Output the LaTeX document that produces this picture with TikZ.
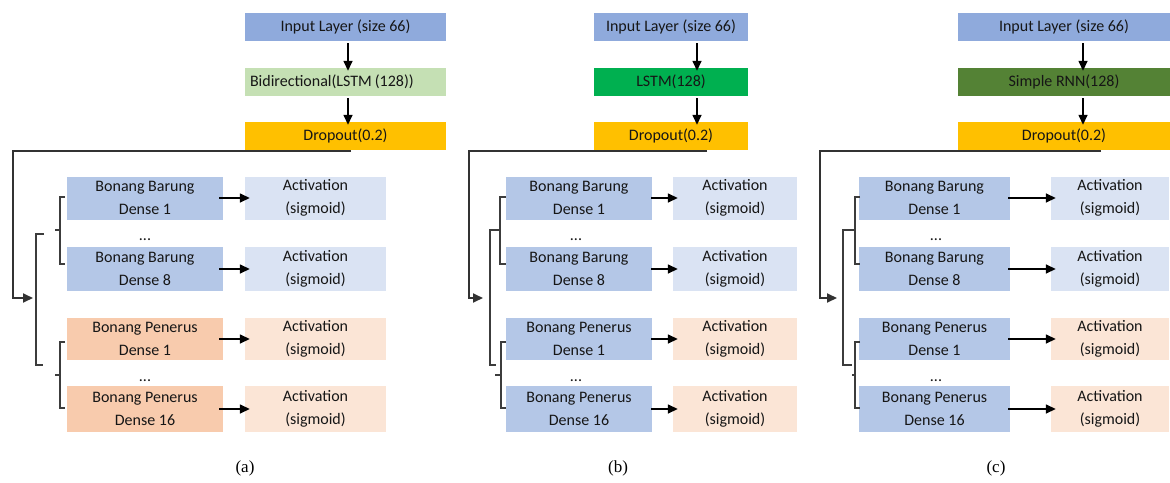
\documentclass[tikz,border=0pt]{standalone}
\usepackage{fontspec}
\setmainfont{Carlito}
\newfontfamily\capfont{Liberation Serif}
\usetikzlibrary{arrows.meta}

\definecolor{txt}{RGB}{22,22,22}
\definecolor{inputc}{HTML}{8FAADC}
\definecolor{bidirc}{HTML}{C5E0B4}
\definecolor{lstmc}{HTML}{00B050}
\definecolor{rnnc}{HTML}{548235}
\definecolor{dropc}{HTML}{FFC000}
\definecolor{densec}{HTML}{B4C7E7}
\definecolor{actbc}{HTML}{DAE3F3}
\definecolor{penc}{HTML}{F8CBAD}
\definecolor{actpc}{HTML}{FBE5D6}
\definecolor{flowc}{RGB}{50,50,50}
\definecolor{brkc}{RGB}{60,60,60}

\tikzset{
  box/.style={draw=none, inner sep=0pt, align=center, text=txt,
              font=\fontsize{16}{23}\selectfont},
  topbox/.style={box, minimum height=28pt},
  arr/.style={-{Triangle[length=10pt,width=9pt]}, line width=1.5pt, draw=black},
  harr/.style={arr, shorten >=-5pt},
  flow/.style={line width=1.8pt, draw=flowc, -{Triangle[length=10pt,width=9pt]}},
  brk/.style={line width=1.2pt, draw=brkc},
  captxt/.style={inner sep=0pt, font=\capfont\fontsize{17}{20}\selectfont}
}

\begin{document}
\begin{tikzpicture}[x=1pt, y=-1pt]
\useasboundingbox (0,0) rectangle (1170,482);

% ---------------- (a) Bidirectional LSTM ----------------
\node[topbox, fill=inputc, minimum width=201pt] (inA) at (345.5,27) {Input Layer (size 66)};
\node[topbox, fill=bidirc, minimum width=201pt, text width=191pt, align=left, inner xsep=5pt] (midA) at (345.5,82) {Bidirectional(LSTM\hspace{3pt}(128))};
\node[topbox, fill=dropc, minimum width=201pt] (dropA) at (345.5,136) {Dropout(0.2)};
\coordinate (axA) at (348,0);
\draw[arr, shorten <=2pt, shorten >=-3pt] (inA.south -| axA) -- (midA.north -| axA);
\draw[arr, shorten <=2pt, shorten >=-3pt] (midA.south -| axA) -- (dropA.north -| axA);

\node[box, fill=densec, minimum width=156pt, minimum height=43pt] (dA1) at (145,198) {Bonang Barung\\Dense 1};
\node[box, fill=densec, minimum width=156pt, minimum height=44pt] (dA2) at (145,269) {Bonang Barung\\Dense 8};
\node[box, fill=penc, minimum width=156pt, minimum height=42pt] (dA3) at (145,339) {Bonang Penerus\\Dense 1};
\node[box, fill=penc, minimum width=156pt, minimum height=46pt] (dA4) at (145,409) {Bonang Penerus\\Dense 16};
\node[box, anchor=base] (dotsA1) at (145,240) {...};
\node[box, anchor=base] (dotsA2) at (145,381) {...};

\node[box, fill=actbc, minimum width=141pt, minimum height=43pt] (aA1) at (315.5,198) {Activation\\(sigmoid)};
\node[box, fill=actbc, minimum width=141pt, minimum height=44pt] (aA2) at (315.5,269) {Activation\\(sigmoid)};
\node[box, fill=actpc, minimum width=141pt, minimum height=42pt] (aA3) at (315.5,339) {Activation\\(sigmoid)};
\node[box, fill=actpc, minimum width=141pt, minimum height=46pt] (aA4) at (315.5,409) {Activation\\(sigmoid)};
\foreach \i in {1,...,4} \draw[harr, shorten <=-4pt] (dA\i.east) -- (aA\i.west);

\coordinate (tapA) at (351,151);
\coordinate (busA) at (13,298);
\coordinate (joinA) at (33,298);
\draw[flow] (tapA) -| (busA) -- (joinA);
\draw[brk] (44,234) -- (36,234) -- (36,365) -- (43,365);
\draw[brk] (65,197) -- (60,197) -- (60,264) -- (65,264);
\draw[brk] (55,230) -- (60,230);
\draw[brk] (65,342) -- (60,342) -- (60,408) -- (65,408);
\draw[brk] (55,375) -- (60,375);
\node[captxt] (capA) at (245,468) {(a)};

% ---------------- (b) LSTM ----------------
\node[topbox, fill=inputc, minimum width=154pt] (inB) at (671,27) {Input Layer (size 66)};
\node[topbox, fill=lstmc, minimum width=154pt] (midB) at (671,82) {LSTM(128)};
\node[topbox, fill=dropc, minimum width=154pt] (dropB) at (671,136) {Dropout(0.2)};
\coordinate (axB) at (697,0);
\draw[arr, shorten <=2pt, shorten >=-3pt] (inB.south -| axB) -- (midB.north -| axB);
\draw[arr, shorten <=2pt, shorten >=-3pt] (midB.south -| axB) -- (dropB.north -| axB);

\node[box, fill=densec, minimum width=146pt, minimum height=43pt] (dB1) at (579,198) {Bonang Barung\\Dense 1};
\node[box, fill=densec, minimum width=146pt, minimum height=44pt] (dB2) at (579,269) {Bonang Barung\\Dense 8};
\node[box, fill=densec, minimum width=146pt, minimum height=42pt] (dB3) at (579,339) {Bonang Penerus\\Dense 1};
\node[box, fill=densec, minimum width=146pt, minimum height=46pt] (dB4) at (579,409) {Bonang Penerus\\Dense 16};
\node[box, anchor=base] (dotsB1) at (576,240) {...};
\node[box, anchor=base] (dotsB2) at (576,381) {...};

\node[box, fill=actbc, minimum width=124pt, minimum height=43pt] (aB1) at (735,198) {Activation\\(sigmoid)};
\node[box, fill=actbc, minimum width=124pt, minimum height=44pt] (aB2) at (735,269) {Activation\\(sigmoid)};
\node[box, fill=actpc, minimum width=124pt, minimum height=42pt] (aB3) at (735,339) {Activation\\(sigmoid)};
\node[box, fill=actpc, minimum width=124pt, minimum height=46pt] (aB4) at (735,409) {Activation\\(sigmoid)};
\foreach \i in {1,...,4} \draw[harr, shorten <=-1pt] (dB\i.east) -- (aB\i.west);

\coordinate (tapB) at (707,151);
\coordinate (busB) at (469,298);
\coordinate (joinB) at (483,298);
\draw[flow] (tapB) -| (busB) -- (joinB);
\draw[brk] (500,230) -- (490,230) -- (490,365) -- (496,365);
\draw[brk] (506,197) -- (500,197) -- (500,264) -- (506,264);
\draw[brk] (506,342) -- (501,342) -- (501,408) -- (506,408);
\draw[brk] (495,375) -- (501,375);
\node[captxt] (capB) at (618,468) {(b)};

% ---------------- (c) Simple RNN ----------------
\node[topbox, fill=inputc, minimum width=212pt] (inC) at (1064,27) {Input Layer (size 66)};
\node[topbox, fill=rnnc, minimum width=212pt] (midC) at (1064,82) {Simple RNN(128)};
\node[topbox, fill=dropc, minimum width=212pt] (dropC) at (1064,136) {Dropout(0.2)};
\coordinate (axC) at (1083,0);
\draw[arr, shorten <=2pt, shorten >=-3pt] (inC.south -| axC) -- (midC.north -| axC);
\draw[arr, shorten <=2pt, shorten >=-3pt] (midC.south -| axC) -- (dropC.north -| axC);

\node[box, fill=densec, minimum width=151pt, minimum height=43pt] (dC1) at (934.5,198) {Bonang Barung\\Dense 1};
\node[box, fill=densec, minimum width=151pt, minimum height=44pt] (dC2) at (934.5,269) {Bonang Barung\\Dense 8};
\node[box, fill=densec, minimum width=151pt, minimum height=42pt] (dC3) at (934.5,339) {Bonang Penerus\\Dense 1};
\node[box, fill=densec, minimum width=151pt, minimum height=46pt] (dC4) at (934.5,409) {Bonang Penerus\\Dense 16};
\node[box, anchor=base] (dotsC1) at (936,240) {...};
\node[box, anchor=base] (dotsC2) at (936,381) {...};

\node[box, fill=actbc, minimum width=118pt, minimum height=43pt] (aC1) at (1110,198) {Activation\\(sigmoid)};
\node[box, fill=actbc, minimum width=118pt, minimum height=44pt] (aC2) at (1110,269) {Activation\\(sigmoid)};
\node[box, fill=actpc, minimum width=118pt, minimum height=42pt] (aC3) at (1110,339) {Activation\\(sigmoid)};
\node[box, fill=actpc, minimum width=118pt, minimum height=46pt] (aC4) at (1110,409) {Activation\\(sigmoid)};
\foreach \i in {1,...,4} \draw[harr, shorten <=-2pt] (dC\i.east) -- (aC\i.west);

\coordinate (tapC) at (1101,151);
\coordinate (busC) at (820,298);
\coordinate (joinC) at (837,298);
\draw[flow] (tapC) -| (busC) -- (joinC);
\draw[brk] (855,230) -- (843,230) -- (843,365) -- (852,365);
\draw[brk] (860,197) -- (855,197) -- (855,264) -- (860,264);
\draw[brk] (860,342) -- (855,342) -- (855,408) -- (860,408);
\draw[brk] (852,375) -- (855,375);
\node[captxt] (capC) at (996,468) {(c)};
\end{tikzpicture}
\end{document}
